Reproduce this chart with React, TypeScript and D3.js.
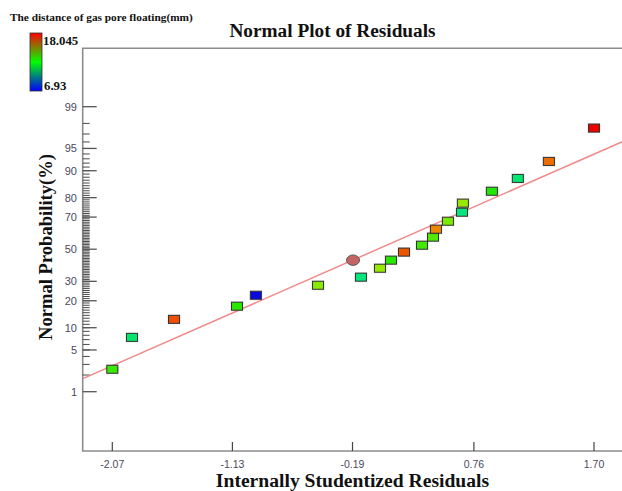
import React from 'react';
import * as d3 from 'd3';

// residuals (x), normal probability in % (y), response value for colour
const residuals = [-2.07, -1.916, -1.587, -1.094, -0.946, -0.46, -0.124, 0.025, 0.111, 0.213, 0.354, 0.44, 0.463, 0.557, 0.667, 0.674, 0.901, 1.104, 1.347, 1.70];
const probabilities = [2.5, 7.5, 12.6, 17.6, 22.6, 27.8, 32.4, 37.8, 42.9, 48.1, 52.6, 57.8, 62.8, 67.6, 72.7, 77.4, 82.8, 87.6, 92.4, 97.6];
const responses = [12.9, 11.0, 17.1, 12.7, 6.93, 13.9, 10.8, 14.1, 12.7, 17.0, 13.0, 13.2, 16.4, 13.7, 10.8, 14.1, 12.6, 10.9, 16.7, 18.045];

// highlighted point (drawn as a circle)
const circlePoint = { residual: -0.186, probability: 42.9 };

// fitted normal line endpoints
const lineResiduals = [-2.30, 1.93];
const lineProbabilities = [1.73, 96.1];

const xTicks = [-2.07, -1.13, -0.19, 0.76, 1.70];
const yMajorTicks = [1, 5, 10, 20, 30, 50, 70, 80, 90, 95, 99];
const yMinorTicks = d3.range(2, 99);

const legendMin = 6.93;
const legendMax = 18.045;
const legendTitle = 'The distance of gas pore floating(mm)';

// inverse standard normal cdf (Acklam)
const probit = (p: number) => {
  const a = [-39.69683028665376, 220.9460984245205, -275.9285104469687, 138.357751867269, -30.66479806614716, 2.506628277459239];
  const b = [-54.47609879822406, 161.5858368580409, -155.6989798598866, 66.80131188771972, -13.28068155288572];
  const c = [-0.007784894002430293, -0.3223964580411365, -2.400758277161838, -2.549732539343734, 4.374664141464968, 2.938163982698783];
  const d = [0.007784695709041462, 0.3224671290700398, 2.445134137142996, 3.754408661907416];
  const pl = 0.02425;
  let q, r;
  if (p < pl) {
    q = Math.sqrt(-2 * Math.log(p));
    return (((((c[0] * q + c[1]) * q + c[2]) * q + c[3]) * q + c[4]) * q + c[5]) / ((((d[0] * q + d[1]) * q + d[2]) * q + d[3]) * q + 1);
  }
  if (p > 1 - pl) {
    q = Math.sqrt(-2 * Math.log(1 - p));
    return -(((((c[0] * q + c[1]) * q + c[2]) * q + c[3]) * q + c[4]) * q + c[5]) / ((((d[0] * q + d[1]) * q + d[2]) * q + d[3]) * q + 1);
  }
  q = p - 0.5;
  r = q * q;
  return (((((a[0] * r + a[1]) * r + a[2]) * r + a[3]) * r + a[4]) * r + a[5]) * q / (((((b[0] * r + b[1]) * r + b[2]) * r + b[3]) * r + b[4]) * r + 1);
};

const left = 82.7, top = 48.3, bottom = 451, right = 624;

const x = d3.scaleLinear().domain([-2.07, 1.70]).range([112.3, 594]);
const zScale = d3.scaleLinear().domain([probit(0.01), probit(0.99)]).range([391.7, 106.7]);
const y = (pct: number) => zScale(probit(pct / 100));

const color = d3
  .scaleLinear<string>()
  .domain([legendMin, (legendMin + legendMax) / 2, legendMax])
  .range(['#0a0ae0', '#18e800', '#f00000'])
  .interpolate(d3.interpolateHsl);

const serif = '"Liberation Serif", "Times New Roman", serif';
const sans = '"Liberation Sans", Arial, sans-serif';
const tickColor = '#4a4a5c';

export default function App() {
  const points = residuals.map((r, i) => ({ r, p: probabilities[i], v: responses[i] }));
  const lineX1 = x(lineResiduals[0]), lineX2 = x(lineResiduals[1]);
  const lineY1 = y(lineProbabilities[0]), lineY2 = y(lineProbabilities[1]);

  return (
    <div style={{ position: 'fixed', left: 0, top: 0 }}>
      <svg width={622} height={491} style={{ display: 'block', background: '#fff' }}>
        <defs>
          <linearGradient id="legendGrad" x1="0" y1="0" x2="0" y2="1">
            <stop offset="0%" stopColor="#ff0000" />
            <stop offset="50%" stopColor="#00ff00" />
            <stop offset="100%" stopColor="#0000ff" />
          </linearGradient>
          <clipPath id="plotClip">
            <rect x={left} y={top} width={right - left} height={bottom - top} />
          </clipPath>
        </defs>

        {/* legend */}
        <text x={10} y={21} fontFamily={serif} fontWeight="bold" fontSize={11.3} fill="#111">
          {legendTitle}
        </text>
        <rect x={30} y={33} width={12} height={58} fill="url(#legendGrad)" stroke="#333" strokeWidth={0.8} />
        <text x={43} y={45} fontFamily={serif} fontWeight="bold" fontSize={12.8} fill="#111">
          {legendMax}
        </text>
        <text x={44} y={90} fontFamily={serif} fontWeight="bold" fontSize={12.8} fill="#111">
          {legendMin}
        </text>

        {/* title */}
        <text x={332.5} y={37} textAnchor="middle" fontFamily={serif} fontWeight="bold" fontSize={19.3} fill="#111">
          Normal Plot of Residuals
        </text>

        {/* frame */}
        <path
          d={`M${right},${top}H${left}V${bottom}H${right}`}
          fill="none"
          stroke="#8c8c8c"
          strokeWidth={1.6}
        />

        {/* y ticks */}
        {yMinorTicks.map((t) => (
          <line key={'m' + t} x1={left} x2={left + 7} y1={y(t)} y2={y(t)} stroke="#4a4a4a" strokeWidth={1} />
        ))}
        {yMajorTicks.map((t) => (
          <g key={'M' + t}>
            <line x1={left} x2={left + 14} y1={y(t)} y2={y(t)} stroke="#555" strokeWidth={1.3} />
            <text x={77} y={y(t) + 3.9} textAnchor="end" fontFamily={sans} fontSize={11} fill={tickColor}>
              {t}
            </text>
          </g>
        ))}

        {/* x ticks */}
        {xTicks.map((t) => (
          <g key={'x' + t}>
            <line x1={x(t)} x2={x(t)} y1={bottom} y2={bottom - 9} stroke="#444" strokeWidth={1.2} />
            <text x={x(t)} y={468} textAnchor="middle" fontFamily={sans} fontSize={10.5} fill={tickColor}>
              {t.toFixed(2)}
            </text>
          </g>
        ))}

        {/* axis titles */}
        <text x={352.5} y={487} textAnchor="middle" fontFamily={serif} fontWeight="bold" fontSize={19.6} fill="#111">
          Internally Studentized Residuals
        </text>
        <text
          transform="translate(52,247) rotate(-90)"
          textAnchor="middle"
          fontFamily={serif}
          fontWeight="bold"
          fontSize={18.6}
          fill="#111"
        >
          Normal Probability(%)
        </text>

        <g clipPath="url(#plotClip)">
          {/* fitted line */}
          <line x1={lineX1} y1={lineY1} x2={lineX2} y2={lineY2} stroke="#f08a8a" strokeWidth={1.5} />

          {/* points */}
          {points.map((d, i) => (
            <g key={i} transform={`translate(${x(d.r)},${y(d.p)})`}>
              <rect x={-6.5} y={-5} width={13} height={10} fill="#000" opacity={0.12} />
              <rect x={-5.5} y={-4} width={11} height={8} fill={color(d.v)} stroke="#333" strokeWidth={1} />
            </g>
          ))}
          <ellipse
            cx={x(circlePoint.residual)}
            cy={y(circlePoint.probability)}
            rx={6.5}
            ry={5.2}
            fill="#c46464"
            stroke="#555"
            strokeWidth={1}
          />
        </g>
      </svg>
    </div>
  );
}
